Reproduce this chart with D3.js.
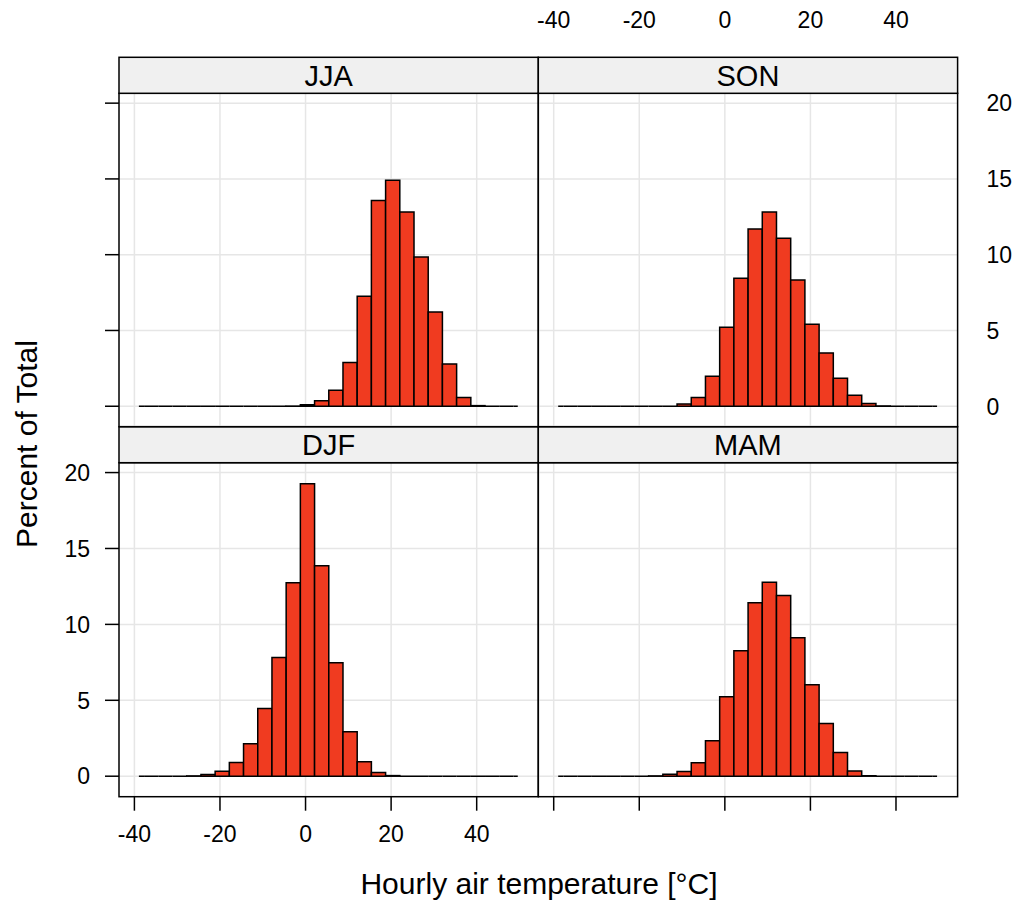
<!DOCTYPE html>
<html>
<head>
<meta charset="utf-8">
<script src="https://cdn.jsdelivr.net/npm/d3@7"></script>
<style>
  html, body { margin: 0; padding: 0; background: #fff; }
  svg { display: block; font-family: "Liberation Sans", Arial, Helvetica, sans-serif; }
</style>
</head>
<body>
<div id="chart"></div>
<script>
// panel order as lattice draws it: bottom-left, bottom-right, top-left, top-right
const seasons = ["DJF", "MAM", "JJA", "SON"];

// histogram break points (°C)
const breaks = [-38.95, -37.73, -34.41, -31.09, -27.77, -24.45, -21.13, -17.81, -14.49, -11.17,
  -7.85, -4.53, -1.21, 2.11, 5.43, 8.75, 12.07, 15.39, 18.71, 22.03, 25.35, 28.67,
  31.99, 35.31, 38.63, 41.95, 45.27, 48.59, 49.6];

// percent of total per bin
const pctDJF = [0, 0, 0, 0, 0.02, 0.11, 0.33, 0.9, 2.13, 4.46, 7.82, 12.75, 19.27, 13.87,
  7.47, 2.92, 0.95, 0.24, 0.04, 0, 0, 0, 0, 0, 0, 0, 0, 0];
const pctMAM = [0, 0, 0, 0, 0, 0, 0, 0.02, 0.13, 0.31, 0.88, 2.33, 5.23, 8.26,
  11.43, 12.77, 11.91, 9.12, 6.02, 3.47, 1.56, 0.35, 0.03, 0, 0, 0, 0, 0];
const pctJJA = [0, 0, 0, 0, 0, 0, 0, 0, 0, 0, 0, 0.01, 0.1, 0.37,
  1.05, 2.88, 7.25, 13.58, 14.92, 12.81, 9.85, 6.22, 2.79, 0.57, 0.04, 0, 0, 0];
const pctSON = [0, 0, 0, 0, 0, 0, 0, 0, 0, 0.15, 0.57, 1.98, 5.21, 8.44,
  11.69, 12.81, 11.08, 8.33, 5.41, 3.52, 1.85, 0.73, 0.18, 0.02, 0, 0, 0, 0];

const xTicks = [-40, -20, 0, 20, 40];
const yTicks = [0, 5, 10, 15, 20];

const pctBySeason = { DJF: pctDJF, MAM: pctMAM, JJA: pctJJA, SON: pctSON };

const width = 1017, height = 905;
const fill = "#f03b20";
const gridCol = "#e6e6e6";

// layout
const colLeft = [119, 538.3];
const panelW = 419.3;
const stripH = 36;
const rows = [
  { stripTop: 426.7, plotTop: 462.7, plotBottom: 796.7 }, // bottom row
  { stripTop: 57.3, plotTop: 93.3, plotBottom: 426.7 }    // top row
];
const tickLen = 14;

const svg = d3.select("#chart").append("svg")
  .attr("width", width)
  .attr("height", height)
  .attr("viewBox", [0, 0, width, height]);

svg.append("rect").attr("width", width).attr("height", height).attr("fill", "#fff");

seasons.forEach((season, i) => {
  const col = i % 2, row = Math.floor(i / 2);
  const r = rows[row];
  const x = d3.scaleLinear().domain([-43.6, 54.4]).range([colLeft[col], colLeft[col] + panelW]);
  const y = d3.scaleLinear().domain([-1.35, 20.65]).range([r.plotBottom, r.plotTop]);
  const g = svg.append("g");

  // grid
  g.append("g").selectAll("line").data(xTicks).join("line")
    .attr("x1", d => x(d)).attr("x2", d => x(d))
    .attr("y1", r.plotTop).attr("y2", r.plotBottom)
    .attr("stroke", gridCol).attr("stroke-width", 1.5);
  g.append("g").selectAll("line").data(yTicks).join("line")
    .attr("x1", x.range()[0]).attr("x2", x.range()[1])
    .attr("y1", d => y(d)).attr("y2", d => y(d))
    .attr("stroke", gridCol).attr("stroke-width", 1.5);

  // bars (paths so that empty bins still show as a line)
  const bins = pctBySeason[season].map((v, k) => ({ x0: breaks[k], x1: breaks[k + 1], v }));
  g.append("g").selectAll("path").data(bins).join("path")
    .attr("d", d => `M${x(d.x0)},${y(0)}V${y(d.v)}H${x(d.x1)}V${y(0)}Z`)
    .attr("fill", fill)
    .attr("stroke", "#000")
    .attr("stroke-width", 1.5)
    .attr("stroke-linejoin", "miter");

  // panel frame
  g.append("rect")
    .attr("x", colLeft[col]).attr("y", r.plotTop)
    .attr("width", panelW).attr("height", r.plotBottom - r.plotTop)
    .attr("fill", "none").attr("stroke", "#000").attr("stroke-width", 1.5);

  // strip
  g.append("rect")
    .attr("x", colLeft[col]).attr("y", r.stripTop)
    .attr("width", panelW).attr("height", stripH)
    .attr("fill", "#f0f0f0").attr("stroke", "#000").attr("stroke-width", 1.5);
  g.append("text")
    .attr("x", colLeft[col] + panelW / 2)
    .attr("y", r.stripTop + stripH / 2)
    .attr("dy", "0.36em")
    .attr("text-anchor", "middle")
    .attr("font-size", 29)
    .text(season);

  // left axis ticks (labels on bottom row only)
  if (col === 0) {
    g.append("g").selectAll("line").data(yTicks).join("line")
      .attr("x1", colLeft[0] - tickLen).attr("x2", colLeft[0])
      .attr("y1", d => y(d)).attr("y2", d => y(d))
      .attr("stroke", "#000").attr("stroke-width", 1.5);
    if (row === 0) {
      g.append("g").selectAll("text").data(yTicks).join("text")
        .attr("x", 90).attr("y", d => y(d)).attr("dy", "0.36em")
        .attr("text-anchor", "end").attr("font-size", 23)
        .text(d => d);
    }
  }
  // right axis labels on top row
  if (col === 1 && row === 1) {
    g.append("g").selectAll("text").data(yTicks).join("text")
      .attr("x", 986.5).attr("y", d => y(d)).attr("dy", "0.36em")
      .attr("text-anchor", "start").attr("font-size", 23)
      .text(d => d);
  }
  // bottom axis ticks on bottom row
  if (row === 0) {
    g.append("g").selectAll("line").data(xTicks).join("line")
      .attr("x1", d => x(d)).attr("x2", d => x(d))
      .attr("y1", r.plotBottom).attr("y2", r.plotBottom + tickLen)
      .attr("stroke", "#000").attr("stroke-width", 1.5);
    if (col === 0) {
      g.append("g").selectAll("text").data(xTicks).join("text")
        .attr("x", d => x(d)).attr("y", 834).attr("dy", "0.36em")
        .attr("text-anchor", "middle").attr("font-size", 23)
        .text(d => d);
    }
  }
  // top axis labels on top-right panel
  if (row === 1 && col === 1) {
    g.append("g").selectAll("text").data(xTicks).join("text")
      .attr("x", d => x(d)).attr("y", 20).attr("dy", "0.36em")
      .attr("text-anchor", "middle").attr("font-size", 23)
      .text(d => d);
  }
});

// axis titles
svg.append("text")
  .attr("transform", "translate(37,444) rotate(-90)")
  .attr("text-anchor", "middle")
  .attr("font-size", 30)
  .text("Percent of Total");

svg.append("text")
  .attr("x", 539).attr("y", 894)
  .attr("text-anchor", "middle")
  .attr("font-size", 30)
  .text("Hourly air temperature [°C]");
</script>
</body>
</html>
